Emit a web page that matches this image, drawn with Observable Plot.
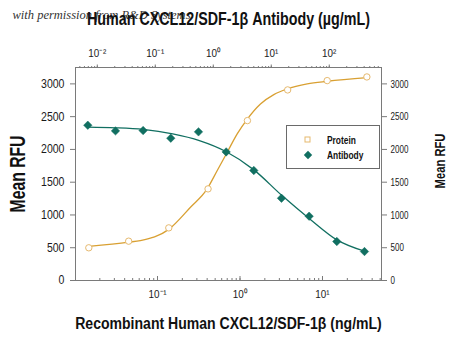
<!DOCTYPE html>
<html>
<head>
<meta charset="utf-8">
<script src="https://cdn.jsdelivr.net/npm/d3@7"></script>
<script src="https://cdn.jsdelivr.net/npm/@observablehq/plot@0.6"></script>
<style>
  html, body { margin: 0; padding: 0; background: white; }
  #chart { position: relative; width: 450px; height: 346px; overflow: hidden; font-family: "Liberation Sans", Arial, sans-serif; }
  #chart svg { position: absolute; left: 0; top: 0; background: transparent; }
  #legend { position: absolute; left: 286px; top: 125px; width: 92px; height: 42px; border: 1px solid #6a6a6a; background: white; }
  #legend .row { position: absolute; left: 0; height: 14px; width: 92px; font-size: 10.5px; font-weight: bold; color: #111; line-height: 14px; }
  #legend svg { position: absolute; left: 16px; top: 2px; }
  #legend span { position: absolute; left: 40px; top: 0; white-space: nowrap; transform: scaleX(0.8); transform-origin: left center; }
</style>
</head>
<body>
<div id="chart"></div>
<script>
// ---- data ----
// Protein series: Recombinant Human CXCL12/SDF-1β (ng/mL), bottom axis
const proteinConc = [0.0147, 0.0447, 0.137, 0.41, 1.23, 3.78, 11.4, 34.5];
const proteinRFU  = [499, 600, 803, 1398, 2440, 2908, 3050, 3106];
// fitted curve for protein
const proteinCurveConc = [0.0147, 0.0449, 0.062, 0.137, 0.251, 0.40, 0.53, 0.70, 0.925, 1.22, 1.77, 2.57, 3.73, 6.53, 11.4, 34.8];
const proteinCurveRFU  = [520, 585, 610, 780, 1118, 1398, 1678, 1957, 2237, 2460, 2694, 2837, 2923, 3000, 3040, 3095];

// Antibody series: Human CXCL12/SDF-1β Antibody (µg/mL), top axis
const antibodyConc = [0.00686, 0.0206, 0.0617, 0.185, 0.556, 1.67, 5, 15, 45, 135, 405];
const antibodyRFU  = [2369, 2283, 2288, 2171, 2268, 1962, 1678, 1255, 981, 595, 442];
// fitted curve for antibody
const antibodyCurveConc = [0.00686, 0.0206, 0.0617, 0.2, 0.576, 1.65, 5.02, 15.3, 46.1, 135.5, 405];
const antibodyCurveRFU  = [2340, 2330, 2305, 2237, 2135, 1968, 1688, 1296, 940, 620, 447];

// axes
const yTicks = [0, 500, 1000, 1500, 2000, 2500, 3000];
const yDomain = [0, 3250];
const bottomDomain = [0.01014, 51.9];
const topDomain = [0.00421, 796];
const bottomMajorTicks = [0.1, 1, 10];
const topMajorTicks = [0.01, 0.1, 1, 10, 100];

// labels
const topTitle = "Human CXCL12/SDF-1β Antibody (µg/mL)";
const bottomTitle = "Recombinant Human CXCL12/SDF-1β (ng/mL)";
const yTitle = "Mean RFU";
const watermark = "with permission from R&D Systems";
const legendLabels = ["Protein", "Antibody"];

// colours
const proteinLine = "#D9A032";
const proteinPoint = "#E6B96E";
const antibodyColor = "#116F61";
const frameColor = "#7a7a7a";

// ---- helpers ----
const supMap = {"-": "⁻", "0": "⁰", "1": "¹", "2": "²", "3": "³"};
const fmtPow = d => "10" + String(Math.round(Math.log10(d))).split("").map(c => supMap[c]).join("");
function minorTicks(domain) {
  const out = [];
  for (let e = -4; e <= 3; e++) for (let m = 1; m <= 9; m++) {
    const v = m * Math.pow(10, e);
    if (v >= domain[0] && v <= domain[1]) out.push(v);
  }
  return out;
}
const FONT = '"Liberation Sans", Arial, sans-serif';

const W = 450, H = 346;
const margins = {marginTop: 67, marginRight: 69, marginBottom: 66, marginLeft: 75};

const proteinData = proteinConc.map((c, i) => ({c, v: proteinRFU[i]}));
const proteinCurve = proteinCurveConc.map((c, i) => ({c, v: proteinCurveRFU[i]}));
const antibodyData = antibodyConc.map((c, i) => ({c, v: antibodyRFU[i]}));
const antibodyCurve = antibodyCurveConc.map((c, i) => ({c, v: antibodyCurveRFU[i]}));

// ---- main plot: protein, bottom/left/right axes, titles ----
const p1 = Plot.plot({
  width: W, height: H, ...margins,
  style: {fontFamily: FONT, fontSize: "12px", color: "#1a1a1a", background: "transparent"},
  x: {type: "log", domain: bottomDomain, axis: null},
  y: {domain: yDomain, axis: null},
  marks: [
    Plot.text([watermark], {frameAnchor: "top-left", dx: -63, dy: -49, textAnchor: "start", lineAnchor: "bottom",
      fontFamily: '"Liberation Serif", "DejaVu Serif", serif', fontStyle: "italic", fontSize: 12.5, fill: "#333"}),
    Plot.text([topTitle], {frameAnchor: "top", dy: -48, textAnchor: "middle", lineAnchor: "middle", fontSize: 18, fontWeight: "bold", fill: "#111"}),
    Plot.text([bottomTitle], {frameAnchor: "bottom", dy: 43, textAnchor: "middle", lineAnchor: "middle", fontSize: 17, fontWeight: "bold", fill: "#111"}),
    Plot.text([yTitle], {frameAnchor: "left", dx: -58, rotate: -90, textAnchor: "middle", lineAnchor: "middle", fontSize: 22, fontWeight: "bold", fill: "#111"}),
    Plot.text([yTitle], {frameAnchor: "right", dx: 59, dy: -13, rotate: -90, textAnchor: "middle", lineAnchor: "middle", fontSize: 14, fontWeight: "bold", fill: "#111"}),
    Plot.frame({stroke: frameColor}),
    Plot.axisY({anchor: "left", ticks: yTicks, tickSize: 5, tickPadding: 6, tickFormat: d => String(d), label: null, fontSize: 12, stroke: frameColor}),
    Plot.axisY({anchor: "right", ticks: yTicks, tickSize: 5, tickPadding: 4, tickFormat: d => String(d), label: null, fontSize: 11.5, stroke: frameColor}),
    Plot.axisX({anchor: "bottom", ticks: minorTicks(bottomDomain), tickSize: -2, tickFormat: () => "", label: null, stroke: frameColor}),
    Plot.axisX({anchor: "bottom", ticks: bottomMajorTicks, tickSize: -4, tickFormat: () => "", label: null, stroke: frameColor}),
    Plot.axisX({anchor: "bottom", ticks: bottomMajorTicks, tickSize: 0, tickPadding: 9, tickFormat: fmtPow, label: null, fontSize: 11.5}),
    Plot.line(proteinCurve, {x: "c", y: "v", stroke: proteinLine, strokeWidth: 1.3, curve: "monotone-x"}),
    Plot.dot(proteinData, {x: "c", y: "v", r: 3.2, stroke: proteinPoint, fill: "white", strokeWidth: 1})
  ]
});

// ---- overlay plot: antibody on its own (top) log scale ----
const p2 = Plot.plot({
  width: W, height: H, ...margins,
  style: {fontFamily: FONT, fontSize: "12px", color: "#1a1a1a", background: "transparent"},
  x: {type: "log", domain: topDomain, axis: null},
  y: {domain: yDomain, axis: null},
  marks: [
    Plot.axisX({anchor: "top", ticks: minorTicks(topDomain), tickSize: 2, tickFormat: () => "", label: null, stroke: frameColor}),
    Plot.axisX({anchor: "top", ticks: topMajorTicks, tickSize: 3.5, tickFormat: () => "", label: null, stroke: frameColor}),
    Plot.axisX({anchor: "top", ticks: topMajorTicks, tickSize: 0, tickPadding: 11, tickFormat: fmtPow, label: null, fontSize: 11.5}),
    Plot.line(antibodyCurve, {x: "c", y: "v", stroke: antibodyColor, strokeWidth: 1.3, curve: "monotone-x"}),
    Plot.dot(antibodyData, {x: "c", y: "v", symbol: "diamond2", r: 3.8, fill: antibodyColor, stroke: antibodyColor, strokeWidth: 0.5})
  ]
});

const chart = document.getElementById("chart");
chart.appendChild(p1);
chart.appendChild(p2);

// ---- condense text to mimic the narrow typeface of the original ----
function squeeze(el, sx) {
  const t = el.getAttribute("transform") || "";
  el.setAttribute("transform", `${t} scale(${sx},1)`);
}
const texts = [...chart.querySelectorAll("svg text")];
const yTitleEls = texts.filter(el => el.textContent === yTitle);
const targetLen = new Map([[topTitle, 283], [bottomTitle, 307]]);
texts.forEach(el => {
  const s = el.textContent;
  if (s === watermark || s === "") return;
  let target = null;
  if (targetLen.has(s)) target = targetLen.get(s);
  else if (s === yTitle) target = el === yTitleEls[0] ? 77 : 55;
  if (target != null) {
    const natural = el.getComputedTextLength();
    if (natural > 0) squeeze(el, target / natural);
    return;
  }
  const anchor = el.closest("[text-anchor]")?.getAttribute("text-anchor");
  squeeze(el, anchor === "start" ? 0.7 : anchor === "end" ? 0.88 : 0.86);
});

// ---- legend ----
const legend = document.createElement("div");
legend.id = "legend";
legend.innerHTML = `
  <div class="row" style="top:7px">
    <svg width="10" height="10"><rect x="2" y="2" width="5" height="5" fill="white" stroke="${proteinPoint}" stroke-width="1"/></svg>
    <span>${legendLabels[0]}</span>
  </div>
  <div class="row" style="top:22px">
    <svg width="10" height="10"><path d="M5,0.8L9.2,5L5,9.2L0.8,5Z" fill="${antibodyColor}"/></svg>
    <span>${legendLabels[1]}</span>
  </div>`;
chart.appendChild(legend);
</script>
</body>
</html>
